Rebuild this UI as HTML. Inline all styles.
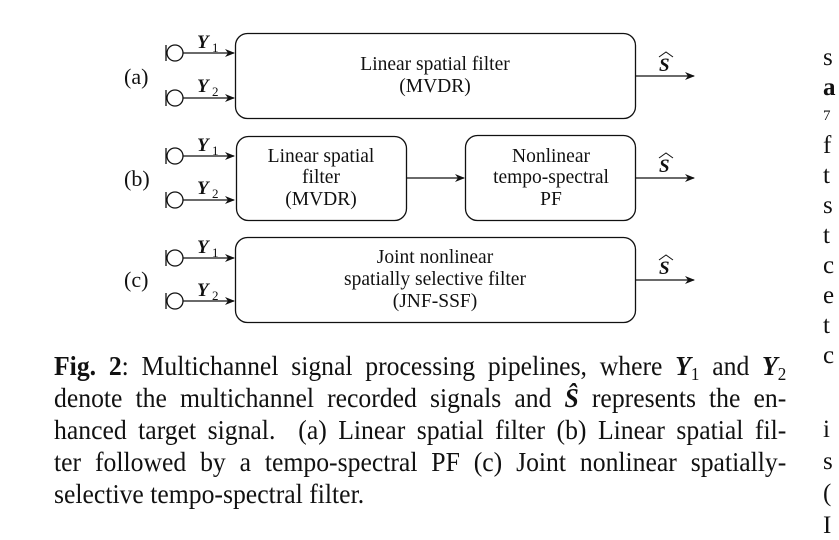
<!DOCTYPE html>
<html><head><meta charset="utf-8"><style>
html,body{margin:0;padding:0;background:#fff;}
body{width:839px;height:540px;overflow:hidden;position:relative;font-family:"Liberation Serif",serif;color:#111;}
svg{position:absolute;left:0;top:0;}
.cap{position:absolute;left:54px;top:350px;width:770px;font-size:27px;line-height:32px;text-align:justify;transform:scaleX(0.951);transform-origin:0 0;}
.cap div{text-align-last:justify;white-space:nowrap;height:32px;}
.cap div.last{text-align-last:left;}
.cap sub{font-size:18px;vertical-align:baseline;position:relative;top:5px;line-height:0;}
.rc{position:absolute;left:823px;font-size:25px;line-height:20px;}
</style></head><body>
<svg width="839" height="540" viewBox="0 0 839 540" font-family="Liberation Serif, serif" fill="none" stroke="#111">
<defs><marker id="ar" markerWidth="10" markerHeight="8" refX="9" refY="4" orient="auto" markerUnits="userSpaceOnUse"><path d="M0,0 L10,4 L0,8 L3,4 Z" fill="#111" stroke="none"/></marker>
<g id="m" stroke-width="1.3"><line x1="166" y1="-8" x2="166" y2="8"/><circle cx="175" cy="0" r="8"/><line x1="183" y1="0" x2="234" y2="0" marker-end="url(#ar)"/></g>
</defs>
<g stroke-width="1.3">
<rect x="235.5" y="33.5" width="400" height="85" rx="12"/>
<rect x="236.5" y="136.5" width="170" height="84" rx="12"/>
<rect x="465.5" y="135.5" width="170" height="85" rx="12"/>
<rect x="235.5" y="237.5" width="400" height="85" rx="12"/>
</g>
<g stroke-width="1.3">
<use href="#m" y="53"/><use href="#m" y="98"/>
<use href="#m" y="156"/><use href="#m" y="200"/>
<use href="#m" y="258"/><use href="#m" y="301"/>
<line x1="635" y1="76" x2="694" y2="76" marker-end="url(#ar)"/>
<line x1="406" y1="178" x2="464" y2="178" marker-end="url(#ar)"/>
<line x1="635" y1="178" x2="694" y2="178" marker-end="url(#ar)"/>
<line x1="635" y1="280" x2="694" y2="280" marker-end="url(#ar)"/>
</g>
<g fill="#111" stroke="none" font-size="19.5" text-anchor="middle">
<text x="435" y="70">Linear spatial filter</text>
<text x="435" y="92">(MVDR)</text>
<text x="321" y="162">Linear spatial</text>
<text x="321" y="183">filter</text>
<text x="321" y="205">(MVDR)</text>
<text x="551" y="162">Nonlinear</text>
<text x="551" y="183">tempo-spectral</text>
<text x="551" y="205">PF</text>
<text x="435" y="263">Joint nonlinear</text>
<text x="435" y="285">spatially selective filter</text>
<text x="435" y="307">(JNF-SSF)</text>
</g>
<g fill="#111" stroke="none" font-size="22">
<text x="124" y="84">(a)</text><text x="124" y="186">(b)</text><text x="124" y="287">(c)</text>
</g>
<g fill="#111" stroke="none" font-size="19" font-weight="bold" font-style="italic">
<text x="197" y="48">Y</text><text x="212" y="52" font-size="13" font-weight="normal" font-style="normal">1</text>
<text x="197" y="92">Y</text><text x="212" y="96" font-size="13" font-weight="normal" font-style="normal">2</text>
<text x="197" y="151">Y</text><text x="212" y="155" font-size="13" font-weight="normal" font-style="normal">1</text>
<text x="197" y="194">Y</text><text x="212" y="198" font-size="13" font-weight="normal" font-style="normal">2</text>
<text x="197" y="253">Y</text><text x="212" y="257" font-size="13" font-weight="normal" font-style="normal">1</text>
<text x="197" y="296">Y</text><text x="212" y="300" font-size="13" font-weight="normal" font-style="normal">2</text>
<text x="659" y="71">S</text><text x="659" y="172">S</text><text x="659" y="274">S</text>
</g>
<g stroke="#111" stroke-width="1">
<path d="M659,57 L666,52 L673,57"/><path d="M659,158 L666,153 L673,158"/><path d="M659,260 L666,255 L673,260"/>
</g>
</svg>
<div class="cap">
<div><b>Fig. 2</b>: Multichannel signal processing pipelines, where <b><i>Y</i></b><sub>1</sub> and <b><i>Y</i></b><sub>2</sub></div>
<div>denote the multichannel recorded signals and <b><i>Ŝ</i></b> represents the en-</div>
<div>hanced target signal. &nbsp;(a) Linear spatial filter (b) Linear spatial fil-</div>
<div>ter followed by a tempo-spectral PF (c) Joint nonlinear spatially-</div>
<div class="last">selective tempo-spectral filter.</div>
</div>
<div class="rc" style="top:48px">s</div>
<div class="rc" style="top:78px"><b>a</b></div>
<div class="rc" style="top:106px;font-size:15px">7</div>
<div class="rc" style="top:136px">f</div>
<div class="rc" style="top:166px">t</div>
<div class="rc" style="top:196px">s</div>
<div class="rc" style="top:226px">t</div>
<div class="rc" style="top:256px">c</div>
<div class="rc" style="top:286px">e</div>
<div class="rc" style="top:316px">t</div>
<div class="rc" style="top:346px">c</div>
<div class="rc" style="top:420px">i</div>
<div class="rc" style="top:452px">s</div>
<div class="rc" style="top:484px">(</div>
<div class="rc" style="top:516px">I</div>
</body></html>
